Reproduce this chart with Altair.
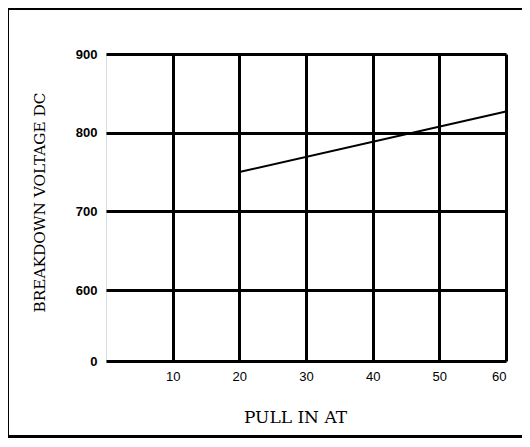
import altair as alt
import pandas as pd

# data
pull_in = [20, 60]
breakdown = [750, 827]

x_ticks = [10, 20, 30, 40, 50, 60]
y_ticks = [0, 600, 700, 800, 900]

df = pd.DataFrame({"pull": pull_in, "volt": breakdown})

W, H = 400, 307

x_scale = alt.Scale(domain=[0, 60], nice=False, zero=False)
y_scale = alt.Scale(domain=[0, 600, 900], range=[H, 236, 0], nice=False, zero=False)

line = alt.Chart(df).mark_line(color="black", strokeWidth=2).encode(
    x=alt.X("pull:Q", scale=x_scale, axis=alt.Axis(
        values=x_ticks, title="PULL IN AT", grid=True, gridColor="black", gridWidth=3,
        gridOpacity=1, domain=False, ticks=False, labelPadding=9,
        labelFont="Liberation Sans", labelFontSize=13, labelColor="black",
        titleFont="DejaVu Serif", titleFontSize=17, titleFontWeight="normal",
        titleColor="black", titleX=189, titleY=56, titleBaseline="middle",
        titleAnchor="middle")),
    y=alt.Y("volt:Q", scale=y_scale, axis=alt.Axis(
        values=y_ticks, title="BREAKDOWN VOLTAGE DC", grid=True, gridColor="black",
        gridWidth=3, gridOpacity=1, domain=False, ticks=False, labelPadding=9,
        labelFont="Liberation Sans", labelFontSize=13, labelFontWeight="bold",
        labelColor="black", titleFont="DejaVu Serif", titleFontSize=15.3,
        titleFontWeight="normal", titleColor="black", titleX=-67, titleY=148,
        titleBaseline="middle", titleAngle=270)),
)

frame_top = alt.Chart(df).mark_rule(stroke="black", strokeWidth=3).encode(
    x=alt.value(-100), x2=alt.value(430), y=alt.value(-45.5)
)
frame_bottom = alt.Chart(df).mark_rule(stroke="black", strokeWidth=3).encode(
    x=alt.value(-100), x2=alt.value(430), y=alt.value(382.5)
)
frame_left = alt.Chart(df).mark_rule(stroke="black", strokeWidth=3).encode(
    x=alt.value(-98.5), y=alt.value(-47), y2=alt.value(384)
)

chart = alt.layer(frame_top, frame_bottom, frame_left, line).properties(
    width=W, height=H,
    autosize=alt.AutoSizeParams(type="none"),
    padding={"left": 98, "top": 46, "right": 16, "bottom": 78},
).configure_view(stroke="black", strokeWidth=3).configure(background="white")

chart.save("out.html", embed_options={"renderer": "svg", "actions": False})
